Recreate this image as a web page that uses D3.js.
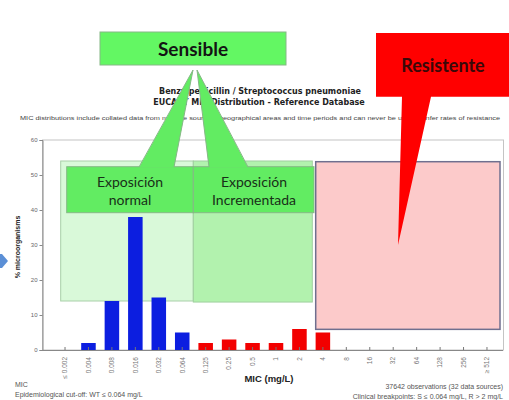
<!DOCTYPE html>
<html>
<head>
<meta charset="utf-8">
<script src="https://cdn.jsdelivr.net/npm/d3@7"></script>
<style>
  body { margin: 0; background: #fff; }
  svg { display: block; }
</style>
</head>
<body>
<svg id="chart" width="509" height="400"></svg>
<script>
// MIC categories (mg/L) and % of microorganisms per category
const micLabels = ["≤ 0.002", "0.004", "0.008", "0.016", "0.032", "0.064", "0.125", "0.25", "0.5",
  "1", "2", "4", "8", "16", "32", "64", "128", "256", "≥ 512"];
const pctValues = [0, 2, 14, 38, 15, 5, 2, 3, 2, 2, 6, 5, 0, 0, 0, 0, 0, 0, 0];
const yTicks = [0, 10, 20, 30, 40, 50, 60];
const wtCutoff = "0.064"; // bars up to here are blue

const svg = d3.select("#chart");

const x = d3.scaleBand()
  .domain(micLabels)
  .range([53.3, 498.7])
  .paddingInner(0.38)
  .paddingOuter(0.19);

const y = d3.scaleLinear()
  .domain([0, 60])
  .range([350, 140]);

const cutIdx = micLabels.indexOf(wtCutoff);
const arial = "'Liberation Sans', Arial, sans-serif";

// titles
svg.append("text")
  .attr("x", 260).attr("y", 93.5)
  .attr("text-anchor", "middle")
  .style("font", "bold 8px 'DejaVu Sans', sans-serif")
  .attr("fill", "#222")
  .text("Benzylpenicillin / Streptococcus pneumoniae");
svg.append("text")
  .attr("x", 259).attr("y", 105)
  .attr("text-anchor", "middle")
  .style("font", "bold 8px 'DejaVu Sans', sans-serif")
  .attr("fill", "#222")
  .text("EUCAST MIC Distribution - Reference Database");
svg.append("text")
  .attr("x", 20).attr("y", 120)
  .style("font", `6px ${arial}`)
  .attr("fill", "#444")
  .attr("textLength", 480)
  .attr("lengthAdjust", "spacingAndGlyphs")
  .text("MIC distributions include collated data from multiple sources, geographical areas and time periods and can never be used to infer rates of resistance");

// plot frame
svg.append("rect")
  .attr("x", 42.5).attr("y", 140)
  .attr("width", 461).attr("height", 210)
  .attr("fill", "none")
  .attr("stroke", "#c4c4c4");

// region overlays
svg.append("rect")
  .attr("x", 60.7).attr("y", y(54))
  .attr("width", 132.6).attr("height", y(14) - y(54))
  .attr("fill", "#d9f9d9").attr("stroke", "#a9cfa9");
svg.append("rect")
  .attr("x", 193.3).attr("y", y(54))
  .attr("width", 119).attr("height", y(13.7) - y(54))
  .attr("fill", "#b2f2ae").attr("stroke", "#a0cfa0");
svg.append("rect")
  .attr("x", 315.7).attr("y", y(53.8))
  .attr("width", 184.3).attr("height", y(5.9) - y(53.8))
  .attr("fill", "#fccaca").attr("stroke", "#6f6f8f").attr("stroke-width", 1.5);

// y axis
const yAxis = svg.append("g")
  .attr("transform", "translate(42.5,0)")
  .call(d3.axisLeft(y).tickValues(yTicks).tickSize(3).tickPadding(2));
yAxis.select(".domain").attr("stroke", "#888");
yAxis.selectAll(".tick line").attr("stroke", "#888");
yAxis.selectAll("text")
  .style("font", `6px ${arial}`)
  .attr("fill", "#666");

svg.append("text")
  .attr("transform", "translate(20,247) rotate(-90)")
  .attr("text-anchor", "middle")
  .style("font", `bold 7px ${arial}`)
  .attr("fill", "#222")
  .text("% microorganisms");

// bars
svg.selectAll(".bar")
  .data(micLabels.map((m, i) => ({ mic: m, pct: pctValues[i], i })))
  .enter()
  .append("rect")
  .attr("class", "bar")
  .attr("x", d => x(d.mic))
  .attr("y", d => y(d.pct))
  .attr("width", x.bandwidth())
  .attr("height", d => y(0) - y(d.pct))
  .attr("fill", d => d.i <= cutIdx ? "#0c1ee0" : "#f20000");

// x axis
const xAxis = svg.append("g")
  .attr("transform", "translate(0,350)")
  .call(d3.axisBottom(x).tickSize(-3).tickSizeOuter(0).tickPadding(0));
xAxis.select(".domain").attr("stroke", "#888").attr("d", "M42.5,0.5H503");
xAxis.selectAll(".tick line").attr("stroke", "#777");
xAxis.selectAll("text")
  .style("font", `6.5px ${arial}`)
  .attr("fill", "#777")
  .attr("text-anchor", "end")
  .attr("dy", "0.35em")
  .attr("transform", "translate(0,7) rotate(-90)")
  .attr("x", 0).attr("y", 0);

svg.append("text")
  .attr("x", 269).attr("y", 382)
  .attr("text-anchor", "middle")
  .style("font", `bold 9.5px ${arial}`)
  .attr("fill", "#222")
  .text("MIC (mg/L)");

// footer notes
const small = `7px ${arial}`;
svg.append("text").attr("x", 15).attr("y", 387).style("font", small).attr("fill", "#555").text("MIC");
svg.append("text").attr("x", 15).attr("y", 397).style("font", small).attr("fill", "#555")
  .text("Epidemiological cut-off: WT ≤ 0.064 mg/L");
svg.append("text").attr("x", 503).attr("y", 389).attr("text-anchor", "end").style("font", small).attr("fill", "#555")
  .text("37642 observations (32 data sources)");
svg.append("text").attr("x", 503).attr("y", 398.5).attr("text-anchor", "end").style("font", small).attr("fill", "#555")
  .text("Clinical breakpoints: S ≤ 0.064 mg/L, R > 2 mg/L");

// callouts
const green = "#62ec62", greenEdge = "#86b886";
const callFont = "'Lato', 'Open Sans', sans-serif";

svg.append("rect")
  .attr("x", 66.7).attr("y", 166.7).attr("width", 126.6).attr("height", 46)
  .attr("fill", green).attr("stroke", greenEdge);
svg.append("rect")
  .attr("x", 193.3).attr("y", 166.7).attr("width", 120.7).attr("height", 46)
  .attr("fill", green).attr("stroke", greenEdge);

// sensible tails
svg.append("polygon")
  .attr("points", "193,70 139,167.5 174,167.5")
  .attr("fill", green);
svg.append("polyline")
  .attr("points", "139,167 193,70 174,167")
  .attr("fill", "none").attr("stroke", greenEdge);
svg.append("polygon")
  .attr("points", "197,70 209,167.5 248,167.5")
  .attr("fill", green);
svg.append("polyline")
  .attr("points", "209,167 197,70 248,167")
  .attr("fill", "none").attr("stroke", greenEdge);

svg.append("rect")
  .attr("x", 100).attr("y", 32).attr("width", 186).attr("height", 33)
  .attr("fill", "#63f763").attr("stroke", greenEdge);
svg.append("text")
  .attr("x", 193).attr("y", 56)
  .attr("text-anchor", "middle")
  .style("font", `bold 19px ${callFont}`)
  .attr("fill", "#141414")
  .text("Sensible");

const labTxt = [
  { cx: 130, lines: ["Exposición", "normal"] },
  { cx: 254, lines: ["Exposición", "Incrementada"] }
];
labTxt.forEach(l => {
  l.lines.forEach((t, k) => {
    svg.append("text")
      .attr("x", l.cx).attr("y", 186.5 + k * 18.5)
      .attr("text-anchor", "middle")
      .style("font", `14px ${callFont}`)
      .attr("fill", "#183018")
      .text(t);
  });
});

// resistente
svg.append("polygon")
  .attr("points", "376,33 512,33 512,96.7 431,96.7 398,245 402,96.7 376,96.7")
  .attr("fill", "#ff0000");
svg.append("text")
  .attr("x", 443).attr("y", 72)
  .attr("text-anchor", "middle")
  .style("font", `bold 18px ${callFont}`)
  .attr("fill", "#3a0808")
  .text("Resistente");

// left arrow tip
svg.append("polygon")
  .attr("points", "0,254 2,254 8,261 2,268 0,268")
  .attr("fill", "#5b8fd6");
</script>
</body>
</html>
